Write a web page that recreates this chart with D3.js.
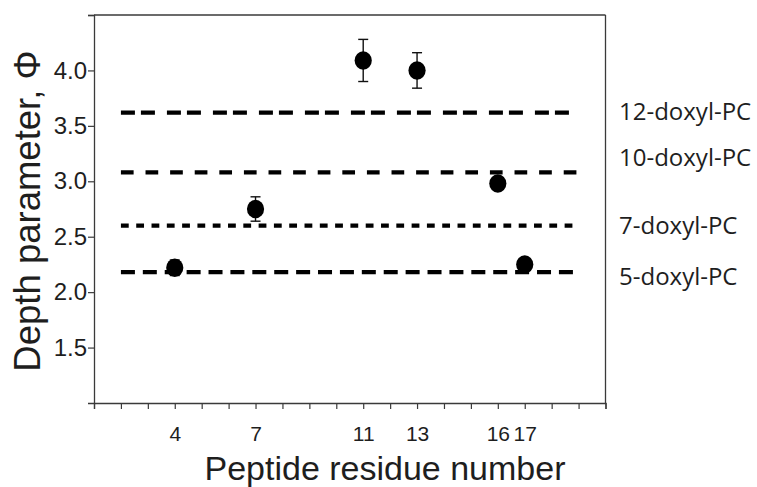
<!DOCTYPE html>
<html><head><meta charset="utf-8">
<script src="https://cdn.jsdelivr.net/npm/d3@7"></script>
<style>html,body{margin:0;padding:0;background:#fff;}</style>
</head><body>
<svg id="chart" width="757" height="487"></svg>
<script>
// Data
const residues = [4, 7, 11, 13, 16, 17];
const depthValues = [2.22, 2.75, 4.09, 4.00, 2.98, 2.25];
const depthErrors = [0.07, 0.11, 0.19, 0.16, 0.03, 0.03];
const xTickLabels = [4, 7, 11, 13, 16, 17];
const yTickValues = [1.5, 2.0, 2.5, 3.0, 3.5, 4.0];
const probeNames = ["12-doxyl-PC", "10-doxyl-PC", "7-doxyl-PC", "5-doxyl-PC"];
const probeDepths = [3.62, 3.08, 2.60, 2.18];
const probeLabelDepths = [3.63, 3.22, 2.60, 2.14];

const svg = d3.select("#chart");
const W = 757, H = 487;
const margin = {left: 94, right: 757 - 605.5, top: 15, bottom: 487 - 403};

const x = d3.scaleLinear().domain([1, 20]).range([margin.left, W - margin.right]);
const y = d3.scaleLinear().domain([1, 4.5]).range([H - margin.bottom, margin.top]);

const axisColor = "#3a3a3a";
const textColor = "#1e1e1e";
const sans = "Liberation Sans, Arial, sans-serif";

// frame (top & right)
svg.append("line").attr("x1", x(1)).attr("x2", x(20)).attr("y1", y(4.5)).attr("y2", y(4.5))
  .attr("stroke", axisColor).attr("stroke-width", 1.3);
svg.append("line").attr("x1", x(20)).attr("x2", x(20)).attr("y1", y(4.5)).attr("y2", y(1))
  .attr("stroke", axisColor).attr("stroke-width", 1.3);

// x axis
const xAxis = d3.axisBottom(x).tickValues(d3.range(1, 21)).tickSize(6)
  .tickFormat(d => xTickLabels.includes(d) ? d : "");
const gx = svg.append("g").attr("transform", `translate(0,${y(1)})`).call(xAxis);
gx.attr("font-size", null).attr("font-family", null);
gx.select(".domain").attr("stroke", axisColor).attr("stroke-width", 1.3);
gx.selectAll(".tick line").attr("stroke", axisColor).attr("stroke-width", 1.2);
gx.selectAll(".tick text").style("font-family", sans)
  .style("font-size", "21px").attr("fill", textColor).attr("y", 23).attr("dy", "0.71em");

// y axis
const yAxis = d3.axisLeft(y).tickValues(yTickValues.concat([4.5])).tickSize(6)
  .tickFormat(d => yTickValues.includes(d) ? d3.format(".1f")(d) : "");
const gy = svg.append("g").attr("transform", `translate(${x(1)},0)`).call(yAxis);
gy.attr("font-size", null).attr("font-family", null);
gy.select(".domain").attr("stroke", axisColor).attr("stroke-width", 1.3);
gy.selectAll(".tick line").attr("stroke", axisColor).attr("stroke-width", 1.2);
gy.selectAll(".tick text").style("font-family", sans)
  .style("font-size", "24px").attr("fill", textColor).attr("x", -7);

// probe dashed lines
const dashes = ["14,6,14,12", "12.7,11.9", "7.8,7.5", "14,7.9"];
svg.append("g").selectAll("line").data(probeDepths).join("line")
  .attr("x1", x(2)).attr("x2", x(19))
  .attr("y1", d => y(d)).attr("y2", d => y(d))
  .attr("stroke", "#000").attr("stroke-width", 4.3)
  .attr("stroke-dasharray", (d, i) => dashes[i]);

// probe labels
svg.append("g").selectAll("text").data(probeNames).join("text")
  .attr("x", 619).attr("y", (d, i) => y(probeLabelDepths[i]))
  .attr("dy", "0.36em")
  .style("font-family", "Open Sans, sans-serif").style("font-size", "24px")
  .attr("fill", textColor).text(d => d);

// error bars
const pts = residues.map((r, i) => ({r, v: depthValues[i], e: depthErrors[i]}));
const eb = svg.append("g").attr("stroke", "#111").attr("stroke-width", 1.4);
eb.selectAll("line.v").data(pts).join("line").attr("class", "v")
  .attr("x1", d => x(d.r)).attr("x2", d => x(d.r))
  .attr("y1", d => y(d.v + d.e)).attr("y2", d => y(d.v - d.e));
eb.selectAll("line.t").data(pts).join("line").attr("class", "t")
  .attr("x1", d => x(d.r) - 5).attr("x2", d => x(d.r) + 5)
  .attr("y1", d => y(d.v + d.e)).attr("y2", d => y(d.v + d.e));
eb.selectAll("line.b").data(pts).join("line").attr("class", "b")
  .attr("x1", d => x(d.r) - 5).attr("x2", d => x(d.r) + 5)
  .attr("y1", d => y(d.v - d.e)).attr("y2", d => y(d.v - d.e));

// points
svg.append("g").selectAll("ellipse").data(pts).join("ellipse")
  .attr("cx", d => x(d.r)).attr("cy", d => y(d.v))
  .attr("rx", 8.6).attr("ry", 9.2).attr("fill", "#000");

// axis titles
svg.append("text").attr("x", 385).attr("y", 480).attr("text-anchor", "middle")
  .style("font-family", sans).style("font-size", "34px")
  .attr("fill", textColor).text("Peptide residue number");
svg.append("text").attr("transform", "translate(40,211) rotate(-90)").attr("text-anchor", "middle")
  .style("font-family", sans).style("font-size", "36.5px")
  .attr("fill", textColor).text("Depth parameter, Φ");
</script>
</body></html>
